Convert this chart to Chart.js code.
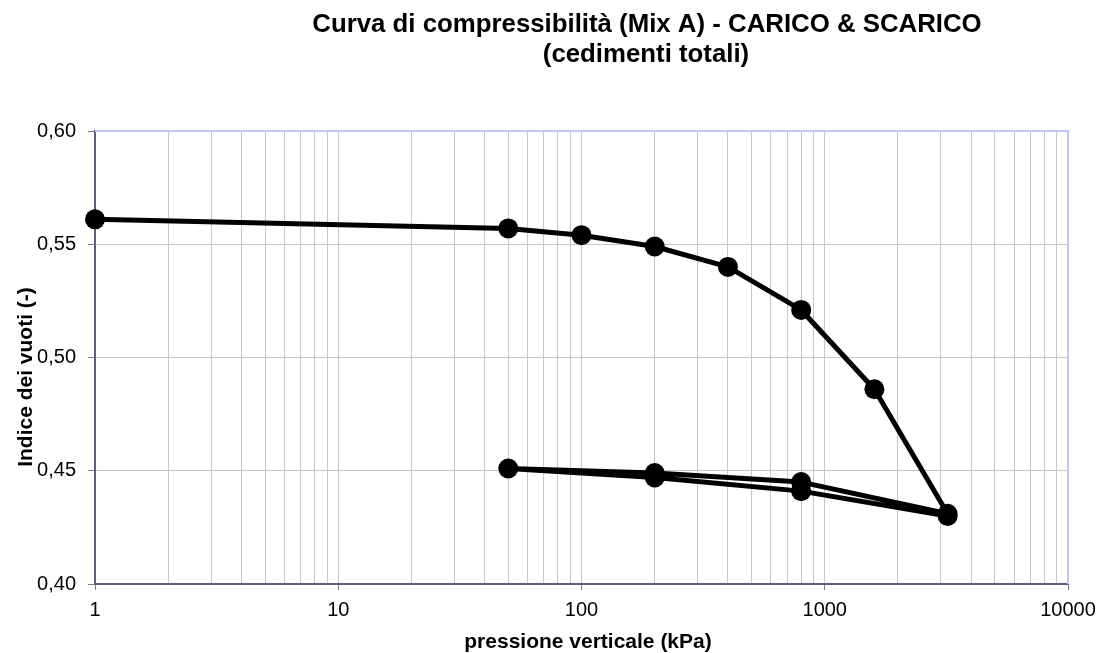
<!DOCTYPE html>
<html lang="it">
<head>
<meta charset="utf-8">
<title>Curva di compressibilità (Mix A)</title>
<script src="https://cdn.jsdelivr.net/npm/chart.js@4.4.1/dist/chart.umd.min.js"></script>
<style>
  html, body { margin: 0; padding: 0; background: #fff; }
  canvas { display: block; }
</style>
</head>
<body>
<canvas id="chart" width="1104" height="653"></canvas>
<script>
// carico 1 -> 3200 kPa, scarico fino a 50, ricarico fino a 3200
const pressione = [1, 50, 100, 200, 400, 800, 1600, 3200, 800, 200, 50, 200, 800, 3200];
const indiceVuoti = [0.561, 0.557, 0.554, 0.549, 0.540, 0.521, 0.486, 0.431, 0.445, 0.449, 0.451, 0.447, 0.441, 0.430];

const decadi = [1, 10, 100, 1000, 10000];
const titolo = ["Curva di compressibilità (Mix A) - CARICO & SCARICO", "(cedimenti totali)"];
const titoloX = "pressione verticale (kPa)";
const titoloY = "Indice dei vuoti (-)";

const FONT = "'Liberation Sans', Arial, sans-serif";

// tacche logaritmiche 1..9 per ogni decade
function tacheLog() {
  const ticks = [];
  for (let i = 0; i < decadi.length - 1; i++) {
    for (let k = 1; k <= 9; k++) {
      ticks.push({ value: k * decadi[i], major: k === 1 });
    }
  }
  ticks.push({ value: decadi[decadi.length - 1], major: true });
  return ticks;
}

const testiPlugin = {
  id: "testi",
  beforeDatasetsDraw(chart) {
    const { ctx, chartArea } = chart;
    ctx.save();
    ctx.strokeStyle = "#c4c4ff";
    ctx.lineWidth = 2;
    ctx.beginPath();
    ctx.moveTo(chartArea.left, chartArea.top);
    ctx.lineTo(chartArea.right, chartArea.top);
    ctx.lineTo(chartArea.right, chartArea.bottom);
    ctx.stroke();
    ctx.restore();
  },
  afterDraw(chart) {
    const { ctx } = chart;
    ctx.save();
    ctx.fillStyle = "#000";
    ctx.textAlign = "center";
    ctx.textBaseline = "alphabetic";
    ctx.font = "bold 25.8px " + FONT;
    ctx.fillText(titolo[0], 647, 32);
    ctx.fillText(titolo[1], 646, 62);

    ctx.font = "bold 21px " + FONT;
    ctx.fillText(titoloX, 588, 648);

    ctx.translate(32, 377);
    ctx.rotate(-Math.PI / 2);
    ctx.fillText(titoloY, 0, 0);
    ctx.restore();
  },
};

new Chart(document.getElementById("chart"), {
  type: "scatter",
  data: {
    datasets: [
      {
        label: "e",
        data: pressione.map((p, i) => ({ x: p, y: indiceVuoti[i] })),
        showLine: true,
        borderColor: "#000",
        backgroundColor: "#000",
        borderWidth: 5,
        borderJoinStyle: "round",
        pointRadius: 10,
        pointHoverRadius: 10,
        pointBorderWidth: 0,
        tension: 0,
        clip: false,
      },
    ],
  },
  options: {
    responsive: false,
    animation: false,
    devicePixelRatio: 1,
    layout: { padding: { top: 131, right: 36, bottom: 0, left: 0 } },
    plugins: {
      legend: { display: false },
      title: { display: false },
      tooltip: { enabled: false },
    },
    scales: {
      x: {
        type: "logarithmic",
        min: 1,
        max: 10000,
        afterBuildTicks: (scale) => {
          scale.ticks = tacheLog();
        },
        afterFit: (scale) => {
          scale.height = 69;
        },
        ticks: {
          autoSkip: false,
          maxRotation: 0,
          padding: 8,
          color: "#000",
          font: { family: FONT, size: 20 },
          callback: (v) => (decadi.includes(v) ? String(v) : ""),
        },
        grid: {
          color: "#c6c6c6",
          lineWidth: 1,
          tickLength: 6,
          tickColor: (ctx) => (ctx.tick && decadi.includes(ctx.tick.value) ? "#808080" : "rgba(0,0,0,0)"),
        },
        border: { color: "#5c5c84", width: 2 },
      },
      y: {
        type: "linear",
        min: 0.4,
        max: 0.6,
        afterFit: (scale) => {
          scale.width = 95;
        },
        ticks: {
          stepSize: 0.05,
          padding: 12,
          color: "#000",
          font: { family: FONT, size: 20 },
          callback: (v) => v.toFixed(2).replace(".", ","),
        },
        grid: {
          color: "#c6c6c6",
          lineWidth: 1,
          tickLength: 7,
          tickColor: "#808080",
        },
        border: { color: "#5c5c84", width: 2 },
      },
    },
  },
  plugins: [testiPlugin],
});
</script>
</body>
</html>
